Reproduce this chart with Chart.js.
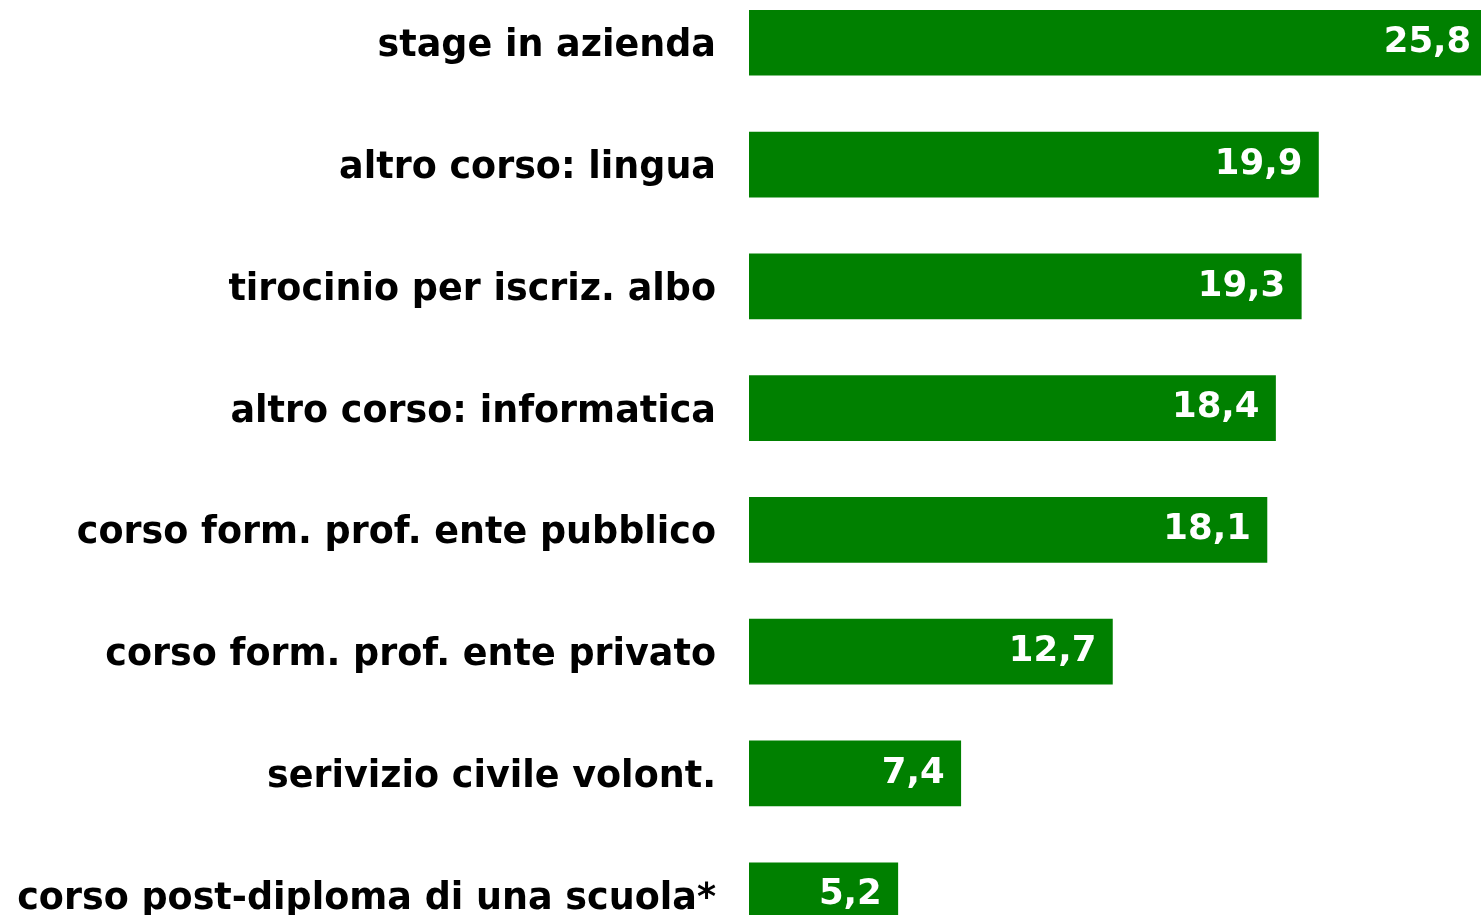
<!DOCTYPE html>
<html>
<head>
<meta charset="utf-8">
<style>
  html, body { margin: 0; padding: 0; background: #fff; }
  #wrap { width: 1481px; height: 915px; overflow: hidden; position: relative; }
  #c { display: block; }
</style>
<script src="https://cdn.jsdelivr.net/npm/chart.js@4/dist/chart.umd.min.js"></script>
</head>
<body>
<div id="wrap"><canvas id="c" width="1481" height="1200"></canvas></div>
<script>
const categories = [
  "stage in azienda",
  "altro corso: lingua",
  "tirocinio per iscriz. albo",
  "altro corso: informatica",
  "corso form. prof. ente pubblico",
  "corso form. prof. ente privato",
  "serivizio civile volont.",
  "corso post-diploma di una scuola*"
];
const values = [25.8, 19.9, 19.3, 18.4, 18.1, 12.7, 7.4, 5.2];

const FONT = "'DejaVu Sans', Verdana, sans-serif";

const valueLabels = {
  id: 'valueLabels',
  afterDatasetsDraw(chart) {
    const ctx = chart.ctx;
    const meta = chart.getDatasetMeta(0);
    ctx.save();
    ctx.font = "bold 35.5px " + FONT;
    ctx.fillStyle = "#ffffff";
    ctx.textAlign = "right";
    ctx.textBaseline = "middle";
    meta.data.forEach((bar, i) => {
      const txt = values[i].toFixed(1).replace('.', ',');
      ctx.fillText(txt, bar.x - 16, bar.y);
    });
    ctx.restore();
  }
};

const canvas = document.getElementById('c');

function build(h) {
  canvas.width = 1481;
  canvas.height = h;
  canvas.style.width = '1481px';
  canvas.style.height = h + 'px';
  return new Chart(canvas, {
    type: 'bar',
    data: {
      labels: categories,
      datasets: [{
        data: values,
        backgroundColor: '#008000',
        borderWidth: 0,
        barThickness: 65
      }]
    },
    options: {
      indexAxis: 'y',
      responsive: false,
      animation: false,
      layout: { padding: 0 },
      plugins: { legend: { display: false }, tooltip: { enabled: false } },
      scales: {
        x: { display: false, min: 0, max: 25.58 },
        y: {
          grid: { display: false, drawTicks: false },
          border: { display: false },
          ticks: {
            color: '#000000',
            padding: 33,
            labelOffset: 4,
            font: { family: FONT, size: 36.5, weight: 'bold' }
          },
          afterFit(scale) { scale.width = 749; }
        }
      }
    },
    plugins: [valueLabels]
  });
}

// Layout: make the category band span from y=-18.6 to y=955.8 on the page
let chart = build(1200);
const padTop = chart.chartArea.top;
const padBottom = 1200 - chart.chartArea.bottom;
chart.destroy();
const areaTop = -18.6, areaHeight = 974.4;
const H = Math.round(areaHeight + padTop + padBottom);
canvas.style.marginTop = (areaTop - padTop) + 'px';
chart = build(H);
</script>
</body>
</html>
